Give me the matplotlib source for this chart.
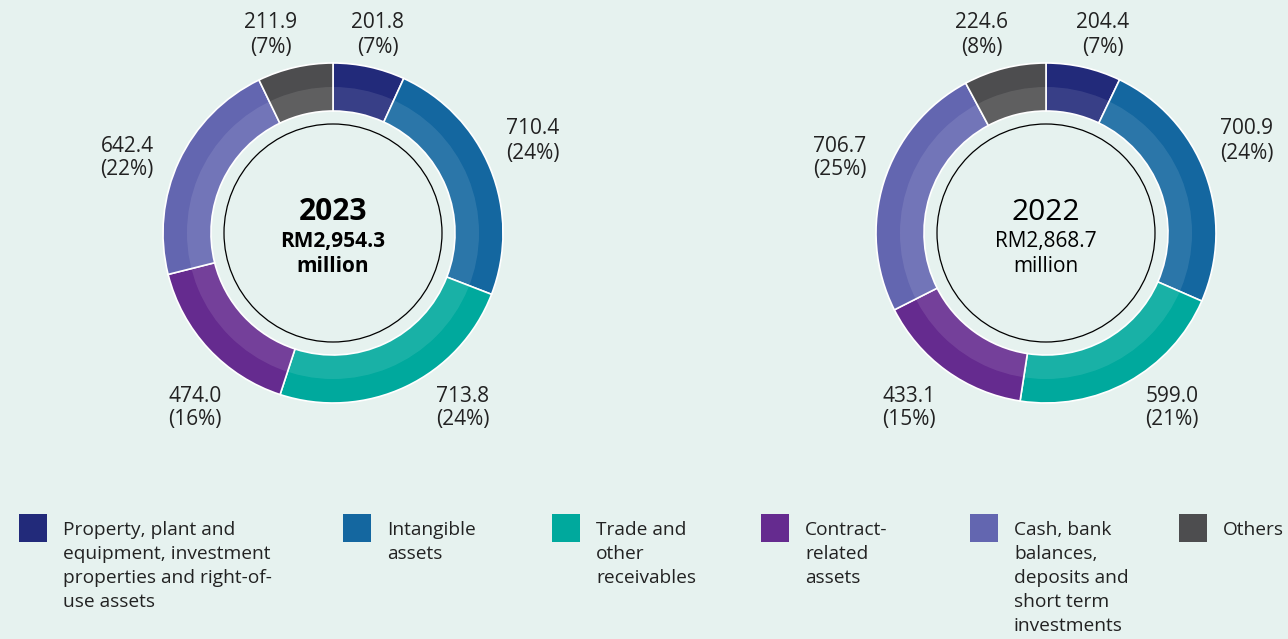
import matplotlib.pyplot as plt
from matplotlib.patches import Wedge, Circle, Rectangle

plt.rcParams['font.family'] = ['Open Sans', 'DejaVu Sans']

BG = "#e6f2ef"
W, H = 1288, 639

categories = [
    "Property, plant and\nequipment, investment\nproperties and right-of-\nuse assets",
    "Intangible\nassets",
    "Trade and\nother\nreceivables",
    "Contract-\nrelated\nassets",
    "Cash, bank\nbalances,\ndeposits and\nshort term\ninvestments",
    "Others",
]
colors = ["#222a7a", "#1467a0", "#00a99d", "#652b8f", "#6366b0", "#4d4d4f"]

values_2023 = [201.8, 710.4, 713.8, 474.0, 642.4, 211.9]
pct_2023 = ["7%", "24%", "24%", "16%", "22%", "7%"]
values_2022 = [204.4, 700.9, 599.0, 433.1, 706.7, 224.6]
pct_2022 = ["7%", "24%", "21%", "15%", "25%", "8%"]

# label anchor points (pixels, top-left origin) for each slice
label_pos_2023 = [(378, 23), (533, 129), (463, 396), (195, 396), (127, 146), (271, 23)]
label_pos_2022 = [(1103, 23), (1247, 129), (1172, 396), (909, 396), (840, 146), (982, 23)]


def py(y):
    return H - y


def draw_donut(ax, cx, cy, values, pcts, label_pos, title, total, bold):
    center = (cx, py(cy))
    ax.pie(values, colors=colors, center=center, radius=170, startangle=90,
           counterclock=False,
           wedgeprops=dict(width=48, edgecolor="white", linewidth=1.2))
    # lighter inner band
    ax.add_patch(Wedge(center, 146, 0, 360, width=24, facecolor="white",
                       alpha=0.1, linewidth=0))
    ax.add_patch(Circle(center, 109, fill=False, edgecolor="black", linewidth=0.9))

    w = "bold" if bold else "normal"
    ax.text(cx, py(cy - 21), title, ha="center", va="center",
            fontsize=21.5, fontweight=w, color="black")
    ax.text(cx, py(cy + 9), f"RM{total:,.1f}", ha="center", va="center",
            fontsize=15, fontweight=w, color="black")
    ax.text(cx, py(cy + 34), "million", ha="center", va="center",
            fontsize=15, fontweight=w, color="black")

    for v, p, (x, y) in zip(values, pcts, label_pos):
        ax.text(x, py(y), f"{v:.1f}", ha="center", va="center",
                fontsize=15, color="#222222")
        ax.text(x, py(y + 24), f"({p})", ha="center", va="center",
                fontsize=15, color="#222222")


fig = plt.figure(figsize=(W / 100, H / 100), dpi=100)
fig.patch.set_facecolor(BG)
ax = fig.add_axes([0, 0, 1, 1])

draw_donut(ax, 333, 233, values_2023, pct_2023, label_pos_2023,
           "2023", sum(values_2023), True)
draw_donut(ax, 1046, 233, values_2022, pct_2022, label_pos_2022,
           "2022", 2868.7, False)

# legend
legend_x = [19, 343, 552, 761, 970, 1179]
for x, label, c in zip(legend_x, categories, colors):
    ax.add_patch(Rectangle((x, py(542)), 28, 28, facecolor=c, linewidth=0))
    for i, line in enumerate(label.split("\n")):
        ax.text(x + 44, py(530 + 24 * i), line, ha="left", va="center",
                fontsize=13.8, color="#222222")

ax.set_xlim(0, W)
ax.set_ylim(0, H)
ax.set_aspect("equal")
ax.axis("off")

fig.savefig("out.png", dpi=100, facecolor=BG)
